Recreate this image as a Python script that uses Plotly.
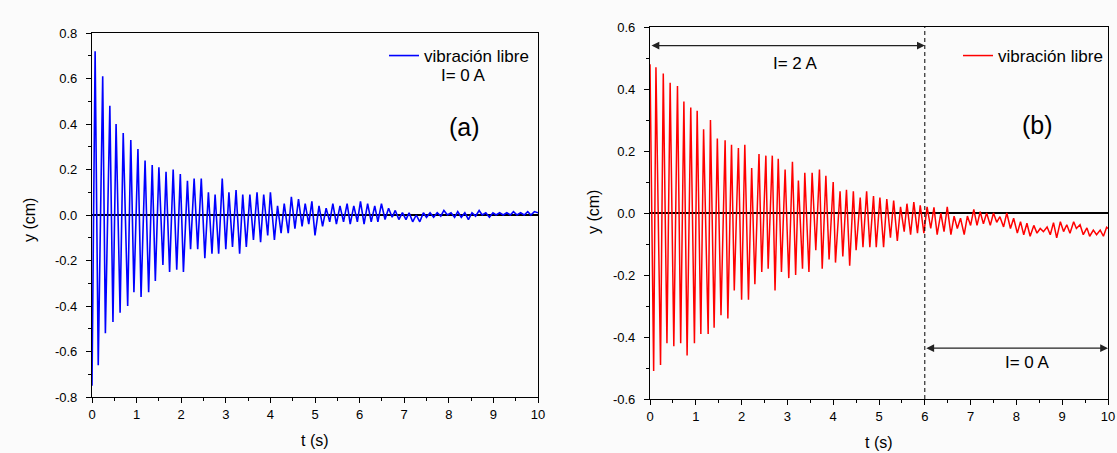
import plotly.graph_objects as go

# ---- data (extrema of the oscillation) ----
# panel (a): I = 0 A
ta_peak = [0.07, 0.24, 0.40, 0.54, 0.70, 0.87, 1.03, 1.19, 1.35, 1.50,
           1.66, 1.82, 1.98, 2.14, 2.29, 2.45, 2.61, 2.76, 2.92, 3.07,
           3.23, 3.38, 3.54, 3.70, 3.85, 4.00,
           4.16, 4.31, 4.47, 4.63, 4.78, 4.93, 5.09, 5.25, 5.40, 5.56,
           5.72, 5.87, 6.02, 6.18, 6.34, 6.49, 6.65, 6.80, 6.96, 7.11,
           7.27, 7.43, 7.58, 7.74, 7.89, 8.05, 8.20, 8.36, 8.52, 8.68,
           8.83, 8.99, 9.14, 9.30, 9.45, 9.61, 9.77, 9.92]
ya_peak = [0.72, 0.61, 0.48, 0.40, 0.36, 0.33, 0.29, 0.24, 0.22, 0.21,
           0.19, 0.20, 0.18, 0.15, 0.16, 0.16, 0.10, 0.09, 0.16, 0.10,
           0.11, 0.09, 0.09, 0.10, 0.09, 0.10,
           0.04, 0.05, 0.08, 0.07, 0.05, 0.06, 0.04, 0.03, 0.05, 0.04,
           0.05, 0.04, 0.06, 0.05, 0.04, 0.05, 0.03, 0.02, 0.01, 0.01,
           0.00, 0.01, 0.01, 0.01, 0.02, 0.01, 0.015, 0.01, 0.01, 0.02,
           0.01, 0.01, 0.01, 0.01, 0.015, 0.01, 0.015, 0.015]
ta_trough = [0.00, 0.14, 0.30, 0.47, 0.63, 0.80, 0.94, 1.10, 1.27, 1.42,
             1.59, 1.74, 1.90, 2.05, 2.21, 2.37, 2.53, 2.69, 2.84, 3.00,
             3.15, 3.31, 3.46, 3.62, 3.78, 3.94, 4.09, 4.24, 4.40, 4.55,
             4.71, 4.86, 5.00, 5.17, 5.33, 5.48, 5.64, 5.79, 5.95, 6.10,
             6.26, 6.41, 6.57, 6.73, 6.88, 7.04, 7.19, 7.35, 7.50, 7.66,
             7.82, 7.97, 8.13, 8.28, 8.44, 8.60, 8.75, 8.91, 9.06, 9.22,
             9.38, 9.53, 9.69, 9.84, 10.0]
ya_trough = [-0.75, -0.66, -0.52, -0.47, -0.43, -0.40, -0.34, -0.36, -0.34, -0.29,
             -0.22, -0.25, -0.24, -0.25, -0.15, -0.15, -0.19, -0.17, -0.17, -0.15,
             -0.14, -0.17, -0.14, -0.11, -0.12, -0.09, -0.11, -0.08, -0.08, -0.06,
             -0.05, -0.04, -0.09, -0.05, -0.03, -0.04, -0.03, -0.04, -0.03, -0.04,
             -0.03, -0.03, -0.02, -0.01, -0.02, -0.02, -0.03, -0.03, -0.01, -0.01,
             -0.005, 0.0, -0.01, -0.01, -0.02, -0.005, 0.0, -0.01, 0.0, 0.0,
             0.0, 0.0, 0.0, 0.0, 0.01]

# panel (b): I = 2 A until t = 6 s, then I = 0 A
tb_peak = [0.00, 0.13, 0.29, 0.44, 0.60, 0.74, 0.89, 1.03, 1.17, 1.32,
           1.47, 1.64, 1.78, 1.93, 2.07, 2.22, 2.38, 2.53, 2.67, 2.80,
           2.95, 3.11, 3.24, 3.38, 3.54, 3.70, 3.84, 4.00, 4.15, 4.29,
           4.44, 4.59, 4.73, 4.88, 5.02, 5.17, 5.32, 5.47, 5.61, 5.76,
           5.90, 6.05, 6.20, 6.35, 6.49, 6.64, 6.78, 6.93, 7.07, 7.21,
           7.35, 7.50, 7.64, 7.79, 7.94, 8.09, 8.23, 8.38, 8.52, 8.67,
           8.81, 8.96, 9.10, 9.25, 9.39, 9.54, 9.68, 9.83, 9.97]
yb_peak = [0.48, 0.47, 0.45, 0.42, 0.41, 0.36, 0.34, 0.33, 0.27, 0.30,
           0.24, 0.235, 0.22, 0.21, 0.22, 0.145, 0.19, 0.185, 0.185, 0.175,
           0.14, 0.165, 0.105, 0.13, 0.13, 0.14, 0.12, 0.10, 0.07, 0.075,
           0.07, 0.05, 0.07, 0.055, 0.05, 0.045, 0.04, 0.02, 0.03, 0.035,
           0.025, 0.02, 0.018, 0.0, 0.02, -0.01, -0.017, -0.01, 0.012, 0.004,
           0.0, 0.0, -0.012, 0.0, -0.017, -0.028, -0.033, -0.04, -0.05, -0.045,
           -0.031, -0.028, -0.038, -0.028, -0.038, -0.048, -0.055, -0.055, -0.046]
tb_trough = [0.08, 0.23, 0.37, 0.52, 0.67, 0.81, 0.97, 1.11, 1.27, 1.40,
             1.55, 1.70, 1.84, 2.00, 2.15, 2.29, 2.44, 2.58, 2.73, 2.87,
             3.03, 3.18, 3.33, 3.47, 3.62, 3.76, 3.91, 4.05, 4.21, 4.36,
             4.50, 4.65, 4.80, 4.94, 5.10, 5.25, 5.40, 5.55, 5.69, 5.84,
             5.98, 6.13, 6.27, 6.42, 6.57, 6.71, 6.86, 7.00, 7.14, 7.28,
             7.43, 7.57, 7.72, 7.87, 8.02, 8.16, 8.30, 8.45, 8.59, 8.74,
             8.88, 9.03, 9.17, 9.31, 9.46, 9.60, 9.75, 9.90, 10.0]
yb_trough = [-0.51, -0.49, -0.42, -0.43, -0.42, -0.46, -0.42, -0.39, -0.39, -0.37,
             -0.33, -0.34, -0.25, -0.28, -0.28, -0.23, -0.19, -0.18, -0.25, -0.19,
             -0.21, -0.20, -0.18, -0.19, -0.12, -0.18, -0.15, -0.16, -0.14, -0.17,
             -0.12, -0.11, -0.11, -0.11, -0.11, -0.08, -0.09, -0.06, -0.07, -0.065,
             -0.065, -0.05, -0.07, -0.06, -0.07, -0.05, -0.07, -0.04, -0.04, -0.035,
             -0.04, -0.03, -0.045, -0.05, -0.065, -0.07, -0.075, -0.065, -0.06, -0.07,
             -0.08, -0.06, -0.065, -0.05, -0.07, -0.075, -0.07, -0.075, -0.05]

x_ticks = [0, 1, 2, 3, 4, 5, 6, 7, 8, 9, 10]
ya_ticks = [-0.8, -0.6, -0.4, -0.2, 0.0, 0.2, 0.4, 0.6, 0.8]
ya_labels = ["-0.8", "-0.6", "-0.4", "-0.2", "0.0", "0.2", "0.4", "0.6", "0.8"]
yb_ticks = [-0.6, -0.4, -0.2, 0.0, 0.2, 0.4, 0.6]
yb_labels = ["-0.6", "-0.4", "-0.2", "0.0", "0.2", "0.4", "0.6"]

W, H = 1117, 453
FONT = "Liberation Sans, Arial, sans-serif"


def merge(tp, yp, tt, yt):
    """Join peaks and troughs into one time-ordered trace."""
    pts = sorted(zip(tp + tt, yp + yt))
    return [p[0] for p in pts], [p[1] for p in pts]


ta, ya = merge(ta_peak, ya_peak, ta_trough, ya_trough)
tb, yb = merge(tb_peak, yb_peak, tb_trough, yb_trough)

fig = go.Figure()
fig.add_trace(go.Scatter(x=ta, y=ya, mode="lines", name="vibración libre",
                         line=dict(color="#0000ff", width=1.6), showlegend=True,
                         xaxis="x", yaxis="y", legend="legend"))
fig.add_trace(go.Scatter(x=tb, y=yb, mode="lines", name="vibración libre",
                         line=dict(color="#ff0000", width=1.5), showlegend=True,
                         xaxis="x2", yaxis="y2", legend="legend2"))

# Origin-like boxed axes
axis_style = dict(showline=True, linecolor="black", linewidth=1.2, mirror=True,
                  ticks="outside", ticklen=5, tickwidth=1, tickcolor="black",
                  showgrid=False, automargin=False,
                  tickfont=dict(size=13, color="black"))
xstyle = dict(axis_style, range=[0, 10], tickmode="array", tickvals=x_ticks,
              ticklabelstandoff=0,
              minor=dict(ticks="outside", ticklen=3, tick0=0, dtick=0.5,
                         tickcolor="black"), zeroline=False)
ystyle = dict(axis_style, tickmode="array", ticklabelstandoff=6,
              minor=dict(ticks="outside", ticklen=3, tick0=0, dtick=0.1,
                         tickcolor="black"),
              zeroline=True, zerolinecolor="black", zerolinewidth=1.5)

fig.update_layout(
    width=W, height=H,
    margin=dict(l=0, r=0, t=0, b=0, autoexpand=False),
    paper_bgcolor="#fbfbfb", plot_bgcolor="#fbfbfb",
    font=dict(family=FONT, color="black"),
    showlegend=True,
    xaxis=dict(xstyle, domain=[92 / W, 538 / W], anchor="y"),
    yaxis=dict(ystyle, domain=[1 - 397 / H, 1 - 33 / H], anchor="x",
               range=[-0.8, 0.8], tickvals=ya_ticks, ticktext=ya_labels),
    xaxis2=dict(xstyle, domain=[650 / W, 1108 / W], anchor="y2"),
    yaxis2=dict(ystyle, domain=[1 - 399 / H, 1 - 27 / H], anchor="x2",
                range=[-0.6, 0.6], tickvals=yb_ticks, ticktext=yb_labels),
    legend=dict(x=534 / W, xanchor="right", y=1 - 38 / H, yanchor="top",
                bgcolor="rgba(0,0,0,0)", font=dict(size=17), visible=True),
    legend2=dict(x=1108 / W, xanchor="right", y=1 - 38 / H, yanchor="top",
                 bgcolor="rgba(0,0,0,0)", font=dict(size=17), visible=True),
)

# dashed line where the current is switched off
fig.add_shape(type="line", xref="x2", yref="y2", x0=6, x1=6, y0=-0.6, y1=0.6,
              line=dict(color="black", width=1, dash="4px,3px"))

# double-headed arrows for the current intervals
for x0, x1, yy in [(0, 6, 0.54), (6, 10, -0.436)]:
    fig.add_annotation(xref="x2", yref="y2", axref="x2", ayref="y2",
                       x=x1, y=yy, ax=x0, ay=yy, text="", showarrow=True,
                       arrowhead=2, arrowside="end+start", arrowsize=1.3,
                       arrowwidth=1.2, arrowcolor="#222222", standoff=0,
                       startstandoff=0)

labels = [
    ("x", "y", 8.34, 0.615, "I= 0 A", 17),
    ("x", "y", 8.36, 0.387, "(a)", 25),
    ("x2", "y2", 3.17, 0.483, "I= 2 A", 17),
    ("x2", "y2", 8.25, -0.483, "I= 0 A", 17),
    ("x2", "y2", 8.45, 0.283, "(b)", 25),
]
for xr, yr, xx, yy, txt, size in labels:
    fig.add_annotation(xref=xr, yref=yr, x=xx, y=yy, text=txt, showarrow=False,
                       font=dict(size=size, color="black"))

# axis titles
for xx, yy, txt, ang in [(29, 220, "y (cm)", -90), (594, 212, "y (cm)", -90),
                         (315, 440, "t (s)", 0), (879, 442, "t (s)", 0)]:
    fig.add_annotation(xref="paper", yref="paper", x=xx / W, y=1 - yy / H,
                       xanchor="center", yanchor="middle",
                       text=txt, textangle=ang, showarrow=False,
                       font=dict(size=16, color="black"))

# the page's default body margin would shift the figure
fig.write_html("out.html", config={"displayModeBar": False},
               post_script="document.body.style.margin='0';")
